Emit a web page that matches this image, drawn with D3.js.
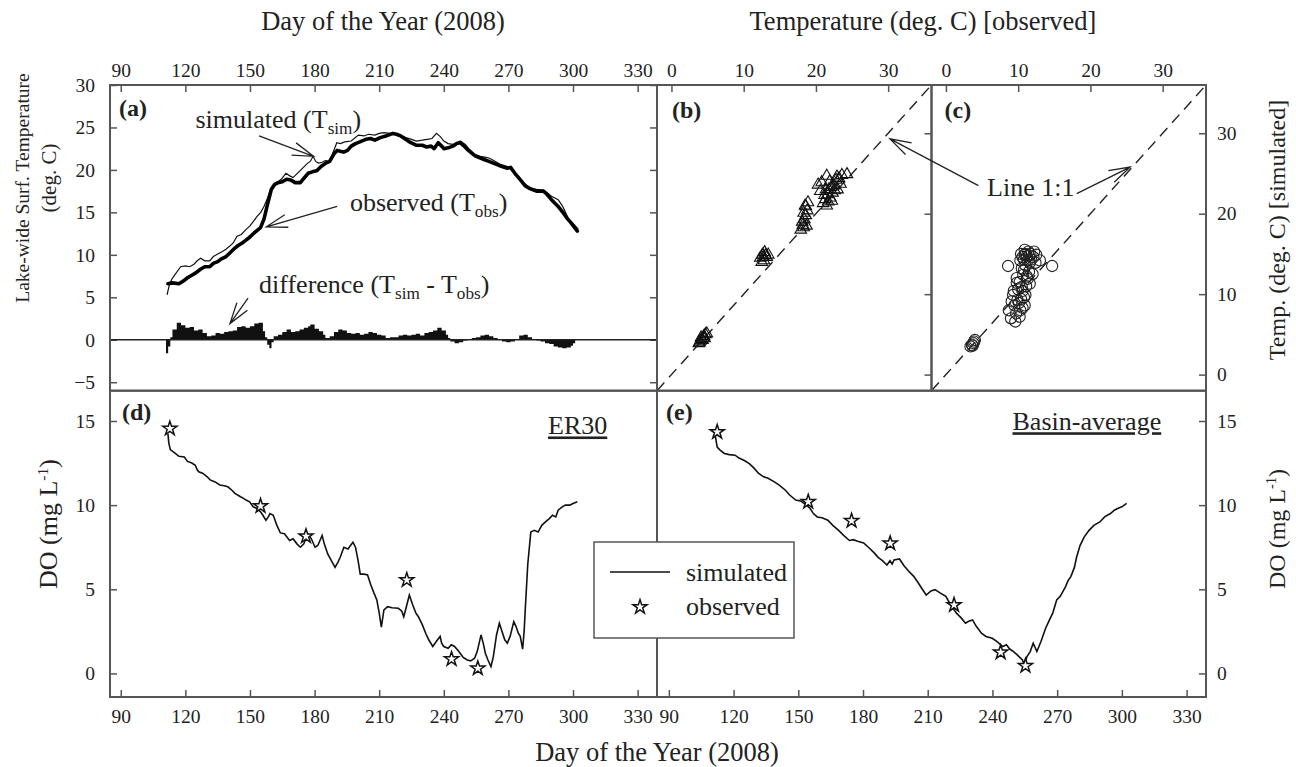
<!DOCTYPE html>
<html>
<head>
<meta charset="utf-8">
<script src="https://cdn.jsdelivr.net/npm/d3@7"></script>
<style>
  body { margin: 0; background: #fff; }
  svg text { font-family: "Liberation Serif", "Times New Roman", serif; fill: #222; }
</style>
</head>
<body>
<div id="chart"></div>
<script>
// tick labels
const dayTicks = [90, 120, 150, 180, 210, 240, 270, 300, 330];
const tempTicksA = [-5, 0, 5, 10, 15, 20, 25, 30];
const tempTicksBC = [0, 10, 20, 30];
const doTicks = [0, 5, 10, 15];

// (a) lake-wide surface temperature [day, deg C]
const tSim = [[111.5,5.3],[112.5,6.4],[113.6,7.1],[115,7.6],[117.8,8.6],[120,8.7],[122,8.6],[124,8.9],[125.5,9.3],[127.1,9.6],[129,9.3],[131.3,9.3],[133,9.8],[135,10.1],[137.2,10.4],[139,10.7],[140.5,11.0],[142.2,11.4],[144,12.2],[146,12.4],[148.2,13.0],[150,13.4],[151.5,13.9],[153.2,14.5],[155,15.0],[156.5,15.7],[158,16.6],[159.9,17.9],[161.5,18.3],[163,18.6],[164.5,18.9],[166.7,19.6],[168.5,19.3],[170,19.1],[172,19.6],[174,20.1],[176.8,20.8],[178,21.0],[179.3,21.6],[180.5,21.0],[181.8,20.8],[183.5,20.9],[185,21.1],[186.9,21.0],[188.5,22.0],[190.3,23.2],[192,23.1],[194,23.3],[197,23.4],[200.3,24.1],[203,24.0],[205,24.2],[208,24.1],[210,24.3],[212.2,24.4],[215,24.3],[217,24.3],[219.5,24.1],[222.3,23.8],[225,23.6],[227.3,23.4],[230,23.5],[232.3,23.6],[234.5,23.7],[236.6,24.3],[238.5,23.9],[240,23.4],[242,23.1],[244.2,23.0],[246,23.2],[247.6,23.4],[250,23.0],[252,22.4],[254.3,21.8],[257,21.6],[259,21.5],[261,21.4],[264,21.0],[266,20.7],[269.5,20.4],[272,19.9],[275,19.1],[277.9,18.3],[280,17.9],[283,17.7],[286.3,17.6],[288,17.3],[290,16.9],[293.1,16.5],[295,15.8],[296.5,15.0],[298.1,14.1],[300,13.7],[301.5,13.3],[302.5,13.0]];
const tObs = [[111.9,6.6],[114,6.7],[117,6.6],[119,6.9],[121,7.3],[123,7.6],[125,7.9],[127,8.3],[129,8.6],[131.3,8.6],[133,9.0],[135,9.2],[136.5,9.5],[138.9,9.8],[141,10.3],[143,10.8],[144.5,11.1],[146.4,11.4],[148,11.7],[150,12.1],[152,12.6],[154.9,13.2],[156.5,14.2],[158,15.8],[159.9,17.7],[161.5,18.3],[163,18.5],[165,18.6],[167,18.9],[169,18.8],[171,18.5],[173.4,18.5],[175,19.0],[177,19.6],[179.3,19.8],[181,19.9],[183,20.4],[185.2,20.8],[187,21.0],[189,21.9],[190.5,22.3],[191.9,22.2],[193.5,22.1],[195.3,22.3],[197,22.8],[199,23.1],[201,23.3],[203.8,23.6],[206,23.7],[208,23.5],[210.5,23.8],[213,24.0],[216.4,24.3],[218,24.2],[220,24.0],[222.3,23.6],[224,23.3],[227.3,22.9],[230,22.9],[232,22.7],[234.1,22.8],[235.5,22.5],[237.4,23.2],[239,22.8],[240,22.5],[242,22.6],[244.2,22.8],[246,23.1],[247.6,23.2],[249,22.9],[251,22.4],[254.3,21.7],[257,21.4],[259,21.2],[261,21.0],[263,20.8],[265,20.6],[267,20.4],[269.5,20.2],[271,20.3],[273,19.6],[275,19.0],[277.9,18.1],[280,17.8],[283,17.5],[286.3,17.5],[288,17.1],[290,16.5],[293.1,15.7],[295,15.1],[297.3,14.3],[299,13.8],[300.5,13.3],[302,12.8]];
const tDiff = [[111,-1.6],[112,-0.8],[113,0.3],[114,1.2],[116,2.0],[118,1.7],[120,1.4],[122,1.5],[124,1.1],[126,1.2],[128,0.8],[130,0.4],[132,0.5],[134,0.8],[136,0.7],[138,0.9],[140,1.0],[142,1.1],[144,1.5],[146,1.6],[148,1.4],[150,1.6],[152,1.9],[154,2.0],[156,1.0],[157,0.3],[158,-0.6],[159,-1.0],[160,-0.3],[161,0.4],[163,0.6],[165,0.9],[167,1.2],[169,0.9],[171,1.0],[173,1.2],[175,1.4],[177,1.6],[178,1.8],[180,1.3],[182,1.0],[184,0.6],[185,0.2],[187,0.4],[189,0.9],[191,1.2],[193,1.1],[195,0.8],[197,0.7],[199,0.8],[201,0.6],[203,0.7],[205,0.9],[207,0.8],[209,0.6],[211,0.5],[213,0.2],[215,0.3],[217,0.3],[219,0.5],[221,0.6],[223,0.5],[225,0.6],[227,0.7],[229,0.5],[231,0.8],[233,0.9],[235,1.1],[237,1.4],[239,1.1],[241,0.6],[242,0.2],[243,-0.2],[245,-0.4],[247,-0.3],[249,-0.1],[251,0.1],[253,0.2],[255,0.3],[257,0.5],[259,0.6],[261,0.4],[263,0.2],[265,0.0],[267,-0.2],[269,-0.3],[271,-0.2],[273,0.1],[275,0.5],[277,0.6],[279,0.3],[281,0.1],[283,-0.1],[285,-0.2],[287,-0.4],[289,-0.5],[291,-0.8],[293,-0.9],[295,-1.0],[297,-0.9],[299,-0.7],[300,-0.4],[301,0.1],[302,0.2]];

// (b) observed vs simulated temperature, triangles [obs, sim]
const scatterB = [[3.8,3.9],[4.0,4.2],[4.2,4.4],[4.4,4.6],[4.5,4.8],[4.7,5.0],[4.3,4.3],[4.9,5.1],[3.9,4.0],[4.1,4.6],[4.6,4.5],
  [12.3,14.5],[12.6,14.9],[12.9,15.2],[13.2,14.6],[12.8,14.2],[13.4,14.9],[12.5,14.0],[12.7,14.6],[13.0,14.8],
  [17.9,18.0],[18.2,18.6],[18.4,19.3],[18.6,19.8],[18.8,20.4],[18.5,21.0],[18.9,21.4],[18.1,19.0],[18.7,18.5],[18.3,20.1],[18.3,18.3],[18.6,20.9],
  [20.3,23.6],[20.6,22.8],[21.0,21.3],[21.3,21.8],[21.5,21.0],[21.6,22.4],[21.8,23.0],[21.5,24.7],[22.0,22.0],[22.3,22.6],[22.5,23.5],[22.8,24.2],[23.0,23.0],[23.2,24.4],[23.6,24.8],[24.3,24.9],[22.2,21.6],[21.9,24.0],
  [21.2,22.3],[21.7,21.5],[22.6,22.9],[23.4,23.7],[22.1,23.3],[21.4,23.0],[22.9,24.6],[20.8,23.9]];
// (c) circles [obs, sim]
const scatterC = [[3.4,3.5],[3.6,3.7],[3.8,3.9],[3.9,4.1],[4.0,4.3],[3.7,3.6],
  [9.0,7.0],[9.6,6.6],[10.2,7.2],[8.7,8.0],[9.5,8.6],[10.1,8.9],[10.6,8.3],[9.9,9.3],[10.8,9.6],[9.3,9.9],
  [9.4,10.4],[10.0,10.6],[10.6,10.4],[11.1,11.0],[10.2,11.5],[11.3,11.9],[10.7,12.4],[11.5,12.8],[10.5,13.2],[11.0,13.6],
  [11.6,13.9],[10.8,14.3],[11.2,14.7],[11.7,15.0],[12.1,14.6],[12.5,14.9],[10.4,15.0],[11.4,15.3],[12.4,13.9],[10.9,15.5],[12.0,12.5],[13.0,14.2],
  [10.9,14.9],[11.3,14.2],[11.8,14.3],[11.0,15.0],[10.6,14.6],[11.5,14.8],[12.2,15.3],[10.3,14.2],[10.8,13.0],[11.2,12.2],
  [10.5,10.9],[9.8,11.4],[10.3,8.0],[9.7,7.6],[10.4,9.4],[11.0,9.9],[9.1,9.1],[10.9,8.6],[9.8,12.0],[11.6,11.3],
  [8.6,13.5],[14.7,13.5]];

// (d) ER30 dissolved oxygen [day, mg/L]
const er30Sim = [[111.9,14.25],[112.3,13.7],[113,13.3],[115.3,13.07],[117,12.9],[119.5,12.86],[121,12.6],[123,12.5],[124.6,12.37],[125.5,12.1],[126.2,11.98],[128,11.9],[130,11.7],[131.5,11.5],[133.8,11.38],[136,11.2],[138,11.15],[139.7,11.09],[141.5,10.9],[143,10.7],[145.6,10.5],[147,10.4],[148.2,10.3],[149.8,10.2],[151.5,9.9],[153.2,9.8],[154.9,9.6],[156,9.4],[157.4,9.1],[158.5,9.3],[159.3,9.5],[160.8,9.4],[162.5,8.8],[164.1,8.35],[166,8.3],[168.4,7.9],[170,8.0],[171.8,7.7],[173.4,7.5],[175,7.7],[176.8,8.3],[178.5,8.0],[180.2,7.5],[181.5,7.6],[183.5,8.2],[184.5,7.7],[186.1,7.1],[187.8,6.7],[189.5,6.3],[190.8,6.6],[191.9,6.9],[193.6,7.5],[195.5,7.4],[197.8,7.8],[199,7.5],[200.2,6.7],[201.2,5.9],[203,5.9],[204.6,5.85],[206,5.3],[207.5,4.8],[208.9,4.37],[210,3.6],[211,2.75],[212.2,3.77],[213.9,3.97],[216,3.9],[218.9,3.87],[220.5,3.7],[221.4,3.37],[222.5,3.9],[224,4.66],[225.5,4.1],[227,3.6],[228.2,3.37],[230,2.9],[231.6,2.39],[233,2.0],[234.9,1.6],[236.5,1.9],[238.3,2.2],[239,1.8],[240,1.6],[242,1.5],[243.5,1.7],[245,1.6],[247,1.3],[249,0.95],[250.9,0.8],[252.5,0.75],[254.3,0.9],[255.5,1.3],[257.3,2.29],[258.3,1.8],[259.3,1.2],[260.5,0.8],[261.9,0.41],[263,1.0],[264.5,2.3],[265.8,2.98],[267,2.5],[268.3,2.0],[269.5,1.8],[270.8,2.2],[272.5,3.08],[273.5,2.8],[274.6,2.39],[275.5,2.2],[276.6,1.44],[277.3,2.5],[277.9,3.97],[279,6.5],[280.4,8.4],[282,8.5],[283.8,8.4],[285.5,8.8],[287.2,9.0],[289,9.2],[290.5,9.4],[292,9.3],[293.1,9.7],[295,9.9],[296.5,10.0],[298.5,10.0],[300,10.1],[302,10.2]];
const er30Obs = [[112.8,14.55],[154.9,9.95],[176,8.15],[222.8,5.55],[243.6,0.85],[255.8,0.3]];

// (e) basin-average dissolved oxygen
const basinSim = [[111.6,14.05],[112.4,13.45],[113.5,13.3],[115.7,13.07],[118,13.0],[120.7,12.97],[122.5,12.8],[125,12.65],[127.3,12.47],[129.5,12.2],[131.5,11.9],[133.9,11.68],[136,11.6],[138.9,11.38],[141,11.2],[143.9,10.9],[146,10.6],[148.8,10.3],[151,10.25],[153.8,10.0],[155.5,9.8],[157,9.5],[158.8,9.3],[161,9.25],[163.7,9.1],[166,8.8],[168.7,8.5],[171,8.2],[173.7,7.9],[175.5,7.95],[177.5,7.85],[180.3,7.75],[182.5,7.5],[185.3,7.15],[187,6.9],[189,6.7],[191.1,6.44],[192.5,6.7],[193.5,6.5],[194.4,6.74],[196.9,6.8],[199,6.4],[201,6.1],[203.5,5.77],[205.5,5.4],[207.5,5.0],[209.3,4.66],[211.5,4.9],[213.4,4.98],[215.5,4.8],[218.4,4.58],[220.5,4.1],[223.3,3.58],[225.5,3.3],[227.5,2.98],[229,3.1],[230.8,3.18],[232.5,2.8],[234.9,2.39],[237,2.2],[239.9,2.09],[242,1.9],[244.8,1.6],[246.5,1.7],[248,1.45],[249.8,1.3],[251.5,1.1],[253.9,0.8],[254.8,0.5],[256,1.0],[257.5,1.3],[258.9,1.8],[260.6,1.3],[262.5,1.9],[264.7,2.7],[266.5,3.2],[268,3.6],[269.8,4.37],[271.5,4.6],[273.9,5.16],[275,5.5],[276.4,5.77],[278,6.3],[279,6.9],[280.6,7.6],[282.5,8.1],[284.8,8.5],[287,8.8],[289.8,9.0],[292,9.3],[294.7,9.5],[296.5,9.7],[298,9.8],[300,9.9],[302.2,10.1]];
const basinObs = [[112.4,14.35],[154.6,10.2],[174.7,9.07],[192.6,7.73],[222.2,4.07],[243.8,1.25],[255.3,0.45]];

const width = 1296, height = 767;
// panel edges (window.top is reserved, hence the Y suffixes)
const leftX = 110, midX = 657, colCX = 931.5, rightX = 1206,
    topY = 85, midY = 390.7, bottomY = 697;

let svg = d3.select("#chart")
    .append("svg")
    .attr("width", width)
    .attr("height", height);

svg.append("rect").attr("width", width).attr("height", height).attr("fill", "#fff");

// scales
let xA = d3.scaleLinear().domain([85, 339]).range([leftX, midX]);
let xE = d3.scaleLinear().domain([84.5, 339]).range([midX, rightX]);
let yA = d3.scaleLinear().domain([-6, 30]).range([midY, topY]);
let xB = d3.scaleLinear().domain([-2, 36]).range([midX, colCX]);
let xC = d3.scaleLinear().domain([-2, 36]).range([colCX, rightX]);
let yT = d3.scaleLinear().domain([-2, 36]).range([midY, topY]);
let yD = d3.scaleLinear().domain([-1.4, 16.8]).range([bottomY, midY]);

function axisStyle(g) {
    g.select(".domain").remove();
    g.selectAll(".tick line").attr("stroke", "#555").attr("stroke-width", 1.5);
    g.selectAll(".tick text").attr("font-size", 19.5);
}

// axes, all ticks point into the panels
svg.append("g").attr("transform", `translate(0,${topY})`)
    .call(d3.axisTop(xA).tickValues(dayTicks).tickSize(-7).tickPadding(8)).call(axisStyle);
svg.append("g").attr("transform", `translate(${leftX},0)`)
    .call(d3.axisLeft(yA).tickValues(tempTicksA).tickSize(-7).tickPadding(15)).call(axisStyle);
svg.append("g").attr("transform", `translate(${midX},0)`)
    .call(d3.axisRight(yA).tickValues(tempTicksA).tickSize(-7).tickFormat("")).call(axisStyle);
svg.append("g").attr("transform", `translate(0,${topY})`)
    .call(d3.axisTop(xB).tickValues(tempTicksBC).tickSize(-7).tickPadding(8)).call(axisStyle);
svg.append("g").attr("transform", `translate(${colCX},0)`)
    .call(d3.axisRight(yT).tickValues(tempTicksBC).tickSize(-7).tickFormat("")).call(axisStyle);
svg.append("g").attr("transform", `translate(0,${topY})`)
    .call(d3.axisTop(xC).tickValues(tempTicksBC).tickSize(-7).tickPadding(8)).call(axisStyle);
svg.append("g").attr("transform", `translate(${rightX},0)`)
    .call(d3.axisRight(yT).tickValues(tempTicksBC).tickSize(-7).tickPadding(11)).call(axisStyle);
svg.append("g").attr("transform", `translate(${leftX},0)`)
    .call(d3.axisLeft(yD).tickValues(doTicks).tickSize(-7).tickPadding(15)).call(axisStyle);
svg.append("g").attr("transform", `translate(0,${bottomY})`)
    .call(d3.axisBottom(xA).tickValues(dayTicks).tickSize(-7).tickPadding(12)).call(axisStyle);
svg.append("g").attr("transform", `translate(${rightX},0)`)
    .call(d3.axisRight(yD).tickValues(doTicks).tickSize(-7).tickPadding(11)).call(axisStyle);
svg.append("g").attr("transform", `translate(0,${bottomY})`)
    .call(d3.axisBottom(xE).tickValues(dayTicks).tickSize(-7).tickPadding(12)).call(axisStyle);

// (a) difference as black steps, then the zero line
svg.append("path")
    .datum(tDiff)
    .attr("fill", "#111")
    .attr("d", d3.area().curve(d3.curveStepAfter)
        .x(d => xA(d[0])).y0(yA(0)).y1(d => yA(d[1])));

svg.append("line")
    .attr("x1", leftX).attr("x2", midX)
    .attr("y1", yA(0)).attr("y2", yA(0))
    .attr("stroke", "#222").attr("stroke-width", 1.5);

let lineA = d3.line().x(d => xA(d[0])).y(d => yA(d[1]));
svg.append("path").datum(tSim)
    .attr("fill", "none").attr("stroke", "#111").attr("stroke-width", 1.2)
    .attr("d", lineA);
svg.append("path").datum(tObs)
    .attr("fill", "none").attr("stroke", "#000").attr("stroke-width", 3.6)
    .attr("stroke-linejoin", "round").attr("stroke-linecap", "round")
    .attr("d", lineA);

// (b) and (c): 1:1 line and points
for (let [xs, pts, kind] of [[xB, scatterB, "tri"], [xC, scatterC, "circ"]]) {
    svg.append("line")
        .attr("x1", xs(-2)).attr("y1", yT(-2))
        .attr("x2", xs(36)).attr("y2", yT(36))
        .attr("stroke", "#222").attr("stroke-width", 1.4)
        .attr("stroke-dasharray", "11,7");

    if (kind == "tri") {
        svg.selectAll(".tri")
            .data(pts).join("path")
            .attr("class", "tri")
            .attr("transform", d => `translate(${xs(d[0])},${yT(d[1])})`)
            .attr("d", d3.symbol(d3.symbolTriangle).size(58))
            .attr("fill", "none").attr("stroke", "#111").attr("stroke-width", 1.1);
    } else {
        svg.selectAll(".circ")
            .data(pts).join("circle")
            .attr("class", "circ")
            .attr("cx", d => xs(d[0])).attr("cy", d => yT(d[1]))
            .attr("r", 5.6)
            .attr("fill", "none").attr("stroke", "#222").attr("stroke-width", 1.1);
    }
}

// (d) and (e): DO lines and observed stars
let star = d3.symbol(d3.symbolStar).size(62);
for (let [xs, sim, obs] of [[xA, er30Sim, er30Obs], [xE, basinSim, basinObs]]) {
    svg.append("path").datum(sim)
        .attr("fill", "none").attr("stroke", "#111").attr("stroke-width", 1.6)
        .attr("d", d3.line().x(d => xs(d[0])).y(d => yD(d[1])));
    svg.append("g").selectAll("path")
        .data(obs).join("path")
        .attr("transform", d => `translate(${xs(d[0])},${yD(d[1])})`)
        .attr("d", star)
        .attr("fill", "#fff").attr("stroke", "#111").attr("stroke-width", 1.5);
}

// panel frames
for (let [x0, y0, x1, y1] of [[leftX, topY, midX, midY], [midX, topY, colCX, midY], [colCX, topY, rightX, midY],
                              [leftX, midY, midX, bottomY], [midX, midY, rightX, bottomY]]) {
    svg.append("rect")
        .attr("x", x0).attr("y", y0).attr("width", x1 - x0).attr("height", y1 - y0)
        .attr("fill", "none").attr("stroke", "#555").attr("stroke-width", 2);
}

// arrows with open heads, tip at (x2, y2)
function arrow(x1, y1, x2, y2) {
    const a = Math.atan2(y2 - y1, x2 - x1), L = 22, s = 0.3;
    svg.append("path")
        .attr("d", `M${x1},${y1}L${x2},${y2}` +
            `M${x2 - L * Math.cos(a - s)},${y2 - L * Math.sin(a - s)}L${x2},${y2}` +
            `L${x2 - L * Math.cos(a + s)},${y2 - L * Math.sin(a + s)}`)
        .attr("fill", "none").attr("stroke", "#222").attr("stroke-width", 1.3);
}

// text with sub / superscript parts
function richText(x, y, size, parts, rotate) {
    let t = svg.append("text").attr("font-size", size);
    if (rotate) t.attr("transform", `translate(${x},${y}) rotate(-90)`).attr("text-anchor", "middle");
    else t.attr("x", x).attr("y", y);
    for (let p of parts) {
        let ts = t.append("tspan").text(p[0]);
        if (p[1] == "sub") ts.attr("font-size", size * 0.66).attr("baseline-shift", -6);
        if (p[1] == "sup") ts.attr("font-size", size * 0.6).attr("baseline-shift", 9);
    }
    return t;
}

// panel (a) annotations
richText(xA(124.7), yA(24.9), 26, [["simulated (T"], ["sim", "sub"], [")"]]);
arrow(xA(154.2), yA(24.0), xA(179.5), yA(21.6));
richText(xA(196.4), yA(15.2), 26, [["observed (T"], ["obs", "sub"], [")"]]);
arrow(xA(190.5), yA(15.7), xA(157.6), yA(13.3));
richText(xA(154.2), yA(5.5), 26, [["difference (T"], ["sim", "sub"], [" - T"], ["obs", "sub"], [")"]]);
arrow(xA(149.1), yA(4.9), xA(140.7), yA(1.9));

// line 1:1 label with two arrows
svg.append("text").attr("x", xC(5.7)).attr("y", yT(22.2)).attr("font-size", 26).text("Line 1:1");
arrow(xB(42.5), yT(23.5), xB(30.25), yT(29.3));
arrow(xC(18.1), yT(22.5), xC(25.5), yT(25.8));

// panel letters
for (let [lab, x, y] of [["(a)", leftX + 9, topY + 31], ["(b)", midX + 15, topY + 33], ["(c)", colCX + 13, topY + 33],
                         ["(d)", leftX + 12, midY + 29], ["(e)", midX + 9, midY + 29]]) {
    svg.append("text").attr("x", x).attr("y", y)
        .attr("font-size", 24).attr("font-weight", "bold").text(lab);
}

svg.append("text").attr("x", xA(288.4)).attr("y", yD(14.2))
    .attr("font-size", 26).attr("text-decoration", "underline").text("ER30");
svg.append("text").attr("x", xE(249.3)).attr("y", yD(14.45))
    .attr("font-size", 26).attr("text-decoration", "underline").text("Basin-average");

// legend box
let legend = svg.append("g").attr("transform", "translate(594,542)");
legend.append("rect").attr("width", 200).attr("height", 96)
    .attr("fill", "#fff").attr("stroke", "#555").attr("stroke-width", 1.5);
legend.append("line").attr("x1", 16).attr("x2", 76).attr("y1", 30).attr("y2", 30)
    .attr("stroke", "#111").attr("stroke-width", 1.6);
legend.append("path").attr("transform", "translate(46,65)").attr("d", star)
    .attr("fill", "#fff").attr("stroke", "#111").attr("stroke-width", 1.5);
legend.append("text").attr("x", 92).attr("y", 39).attr("font-size", 26).text("simulated");
legend.append("text").attr("x", 92).attr("y", 73).attr("font-size", 26).text("observed");

// axis titles
svg.append("text").attr("x", 383).attr("y", 30)
    .attr("text-anchor", "middle").attr("font-size", 26.5).text("Day of the Year (2008)");
svg.append("text").attr("x", 923).attr("y", 30)
    .attr("text-anchor", "middle").attr("font-size", 26.5).text("Temperature (deg. C) [observed]");
svg.append("text").attr("x", midX).attr("y", 761)
    .attr("text-anchor", "middle").attr("font-size", 26.5).text("Day of the Year (2008)");

svg.append("text").attr("transform", "translate(29,188) rotate(-90)")
    .attr("text-anchor", "middle").attr("font-size", 19.5).text("Lake-wide Surf. Temperature");
svg.append("text").attr("transform", "translate(56,178) rotate(-90)")
    .attr("text-anchor", "middle").attr("font-size", 21).text("(deg. C)");
richText(57, 524, 26, [["DO (mg L"], ["-1", "sup"], [")"]], true);

svg.append("text").attr("transform", "translate(1285,230) rotate(-90)")
    .attr("text-anchor", "middle").attr("font-size", 24).text("Temp. (deg. C) [simulated]");
richText(1285, 529, 24, [["DO (mg L"], ["-1", "sup"], [")"]], true);
</script>
</body>
</html>
